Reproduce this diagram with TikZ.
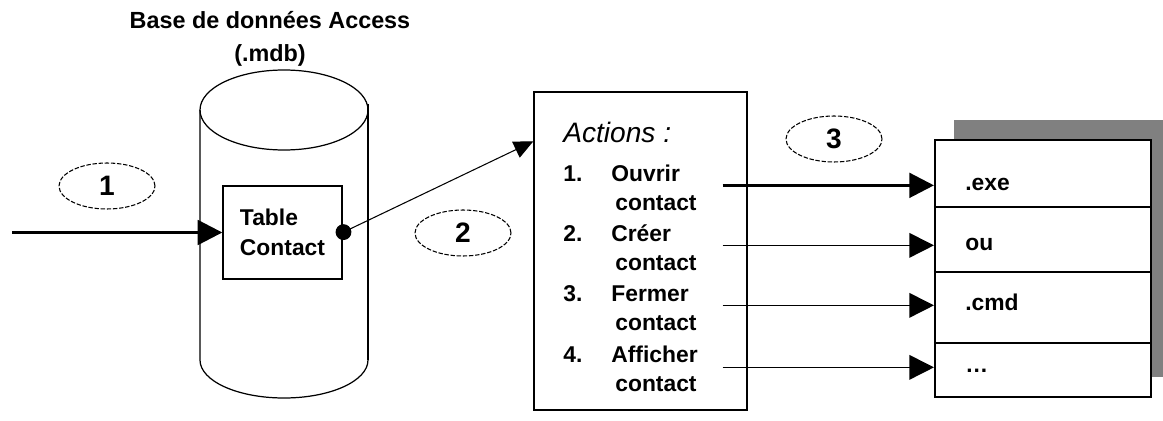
\documentclass[tikz,border=0pt]{standalone}
\usepackage{fontspec}
\setmainfont{Liberation Sans}
\usetikzlibrary{arrows.meta,shapes.geometric}
\begin{document}
\begin{tikzpicture}[x=0.02cm, y=0.02cm, font=\bfseries\fontsize{13}{17}\selectfont,
		arr/.style={-{Triangle[length=14pt,width=14pt]}, line width=0.9pt},
		bubble/.style={ellipse, draw, dash pattern=on 2.5pt off 1pt, line width=0.6pt, minimum width=1.92cm, minimum height=0.92cm, inner sep=0pt, font=\bfseries\fontsize{16}{16}\selectfont},
		box/.style={draw, line width=0.8pt, inner sep=0pt},
		lbl/.style={inner sep=0pt, anchor=base west}]
		\useasboundingbox (0,0) rectangle (1163,420);
		
		%title
		\node[align=center, font=\bfseries\fontsize{13.3}{18.7}\selectfont] (title) at (270,381) {Base de données Access\\(.mdb)};
		
		%database
		\draw[line width=0.7pt] (284,310) ellipse [x radius=84, y radius=40];
		\draw[line width=0.7pt] (200,310) -- (200,60) arc [start angle=180, end angle=360, x radius=84, y radius=38];
		\draw[line width=1.4pt] (368,316) -- (368,60);
		\node[box, minimum width=2.38cm, minimum height=1.86cm, align=left] (tbl) at (282.5,187.5) {Table\\Contact};
		
		\coordinate (src) at (12,187.5);
		\draw[arr, line width=1.8pt] (src) -- (tbl.west);
		\node[bubble] (b1) at (107,234) {1};
		
		%actions
		\node[box, minimum width=4.26cm, minimum height=6.36cm] (actions) at (640.5,169) {};
		\node[lbl, font=\itshape\fontsize{16}{16}\selectfont] (acts) at (563,277) {Actions :};
		\foreach \n/\w/\y in {1/Ouvrir/239, 2/Créer/179, 3/Fermer/119, 4/Afficher/58}{
			\node[lbl] (n\n) at (563,\y) {\n.};
			\node[lbl] (w\n) at (611,\y) {\w};
			\node[lbl] (c\n) at (615,\y-29) {contact};
		}
		\draw[{Circle[length=9pt]}-{Triangle[length=11pt,width=10pt]}, line width=0.6pt, shorten <=-4pt] (tbl.east) -- ([yshift=-1cm]actions.north west);
		\node[bubble] (b2) at (463,187) {2};
		
		%files
		\fill[gray] (954,300) rectangle (1170,43);
		\node[box, fill=white, line width=1.2pt, minimum width=4.32cm, minimum height=5.14cm] (files) at (1043,151.5) {};
		\draw[line width=1.6pt] (files.west |- 0,213) -- (files.east |- 0,213);
		\draw[line width=0.8pt] (files.west |- 0,148) -- (files.east |- 0,148);
		\draw[line width=0.8pt] (files.west |- 0,77) -- (files.east |- 0,77);
		\foreach \n/\t/\y/\w in {1/.exe/230/1.8pt, 2/ou/170/0.9pt, 3/.cmd/110/0.9pt, 4/{\ldots}/48/0.9pt}{
			\node[lbl] (r\n) at (965,\y) {\t};
			\draw[arr, line width=\w] (actions.east |- r\n.mid) ++(-25,0) -- (r\n.mid -| files.west);
		}
		\node[bubble] (b3) at (834,281) {3};
		\end{tikzpicture}
\end{document}
